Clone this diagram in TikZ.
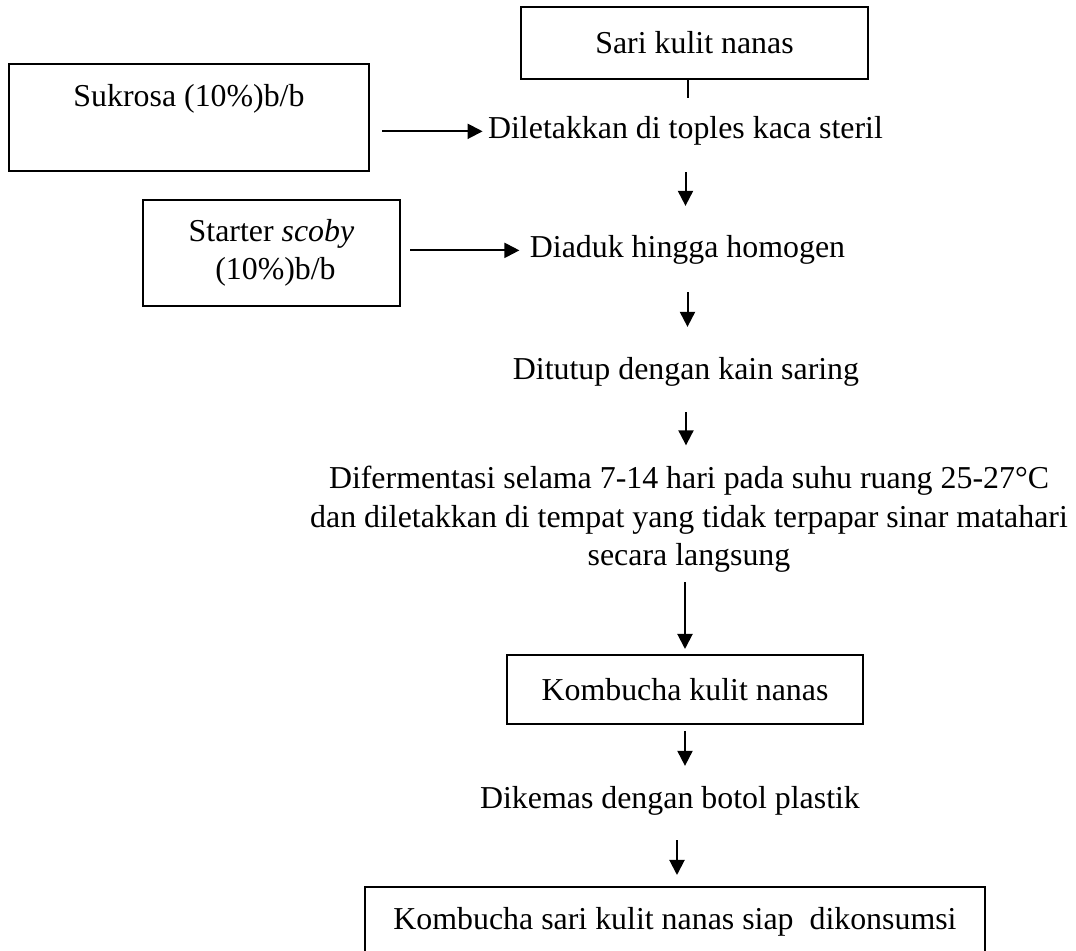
\documentclass[tikz,border=0pt]{standalone}
\usepackage{fontspec}
\setmainfont{Liberation Serif}
\usetikzlibrary{arrows.meta}

\begin{document}
\begin{tikzpicture}[
  x=0.4pt, y=-0.4pt,
  font=\fontsize{12.75}{15.4}\selectfont,
  >={Triangle[length=6pt, width=6pt]},
  boxnode/.style={rectangle, draw=black, line width=0.8pt, align=center},
  textnode/.style={inner sep=0pt, align=center},
  flow/.style={->, line width=0.8pt},
  ]

\useasboundingbox (0,0) rectangle (1076,951);

\node[boxnode, minimum width=138.8pt, minimum height=28.8pt] (sari) at (694.5,43) {Sari kulit nanas};
\node[boxnode, minimum width=144pt, minimum height=42.8pt] (sukrosa) at (189,118) {Sukrosa (10\%)b/b\\[2.8pt] \mbox{}};
\node[boxnode, minimum width=102.8pt, minimum height=42.4pt] (starter) at (271.5,253) {Starter \textit{scoby}\\~(10\%)b/b};

\node[textnode, anchor=base] (toples) at (685.5,139) {Diletakkan di toples kaca steril};
\node[textnode, anchor=base] (aduk) at (687.5,258) {Diaduk hingga homogen};
\node[textnode, anchor=base] (tutup) at (686,380) {Ditutup dengan kain saring};
\node[textnode] (fermentasi) at (689,519.5) {Difermentasi selama 7-14 hari pada suhu ruang 25-27°C\\dan diletakkan di tempat yang tidak terpapar sinar matahari\\secara langsung};

\node[boxnode, minimum width=142.4pt, minimum height=27.6pt] (kombucha) at (685,689.5) {Kombucha kulit nanas};
\node[textnode, anchor=base] (kemas) at (670,809) {Dikemas dengan botol plastik};
\node[boxnode, minimum width=248pt, minimum height=28pt] (siap) at (675,922) {Kombucha sari kulit nanas siap\ \ dikonsumsi};

\coordinate (stub) at (688,98);

\draw[line width=0.8pt] (sari.south -| stub) -- (stub);
\draw[flow, shorten <=10.4pt, shorten >=11.8pt] (toples.south) -- (toples.south |- aduk.north);
\draw[flow, shorten <=10.8pt, shorten >=12.2pt] (aduk.south) -- (aduk.south |- tutup.north);
\draw[flow, shorten <=10pt, shorten >=8.2pt] (tutup.south) -- (tutup.south |- fermentasi.north);
\draw[flow, shorten <=3.6pt, shorten >=2pt] (fermentasi.south -| kombucha.south) -- (kombucha.north);
\draw[flow, shorten <=2.4pt, shorten >=8.2pt] (kombucha.south) -- (kombucha.south |- kemas.north);
\draw[flow, shorten <=9.6pt, shorten >=4.4pt] ([xshift=2.8pt]kemas.south) -- ([xshift=2.8pt]kemas.south |- siap.north);

\draw[flow, shorten <=4.8pt, shorten >=2pt] (sukrosa.east |- toples.west) -- (toples.west);
\draw[flow, shorten <=3.6pt, shorten >=4pt] (starter.east |- aduk.west) -- (aduk.west);

\end{tikzpicture}
\end{document}
